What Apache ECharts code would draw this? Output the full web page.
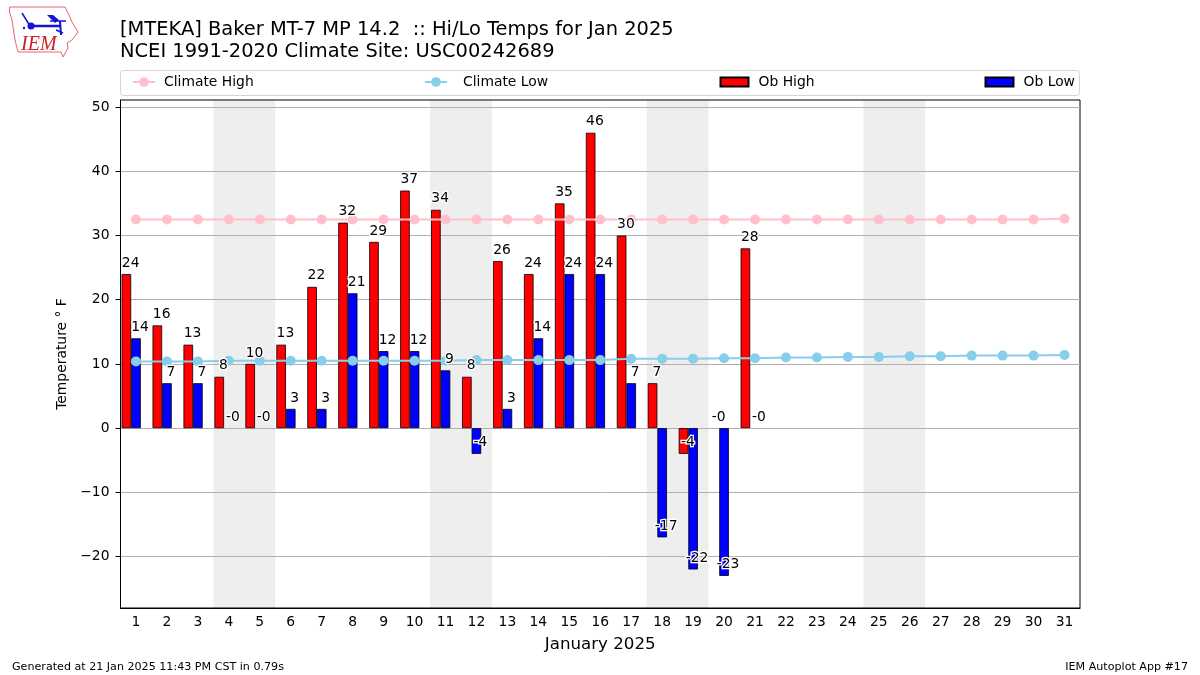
<!DOCTYPE html>
<html>
<head>
<meta charset="utf-8">
<script src="https://cdn.jsdelivr.net/npm/echarts@6/dist/echarts.min.js"></script>
<style>html,body{margin:0;padding:0;background:#fff}#c{width:1200px;height:675px}</style>
</head>
<body>
<div id="c"></div>
<script>
const days = ["1","2","3","4","5","6","7","8","9","10","11","12","13","14","15","16","17","18","19","20","21","22","23","24","25","26","27","28","29","30","31"];
const climateHigh = [32.5,32.5,32.5,32.5,32.5,32.5,32.5,32.5,32.5,32.5,32.5,32.5,32.5,32.5,32.5,32.5,32.5,32.5,32.5,32.5,32.5,32.5,32.5,32.5,32.5,32.5,32.5,32.5,32.5,32.5,32.6];
const climateLow = [10.4,10.4,10.4,10.5,10.5,10.5,10.5,10.5,10.5,10.5,10.5,10.6,10.6,10.6,10.6,10.6,10.8,10.8,10.8,10.9,10.9,11,11,11.1,11.1,11.2,11.2,11.3,11.3,11.3,11.4];
const obHigh = [24,16,13,8,10,13,22,32,29,37,34,8,26,24,35,46,30,7,-4,0,28];
const obLow = [14,7,7,0,0,3,3,21,12,12,9,-4,3,14,24,24,7,-17,-22,-23,0];
const yTicks = [-20,-10,0,10,20,30,40,50];
const weekendBands = [[3.5,5.5],[10.5,12.5],[17.5,19.5],[24.5,26.5]];

const FONT = 'DejaVu Sans';
const BLACK = '#000';
const TICK_SIZE = 13.89;

function barSeries(name, values, color){
  return {
    name, type: 'bar', xAxisIndex: 0, yAxisIndex: 0, z: 2,
    barWidth: '31%', barGap: '0%',
    data: values.map(v => ({value: v, itemStyle: v === 0 ? {borderWidth: 0} : undefined})),
    itemStyle: {color, borderColor: BLACK, borderWidth: 0.8, borderJoin: 'miter', borderRadius: 0}
  };
}
function labelSeries(name, values, dx){
  return {
    name, type: 'scatter', xAxisIndex: 0, yAxisIndex: 0, z: 4, silent: true,
    data: values, symbolSize: 0, itemStyle: {opacity: 1},
    label: {
      show: true, position: 'top', distance: 4, offset: [dx, 0], color: BLACK, opacity: 1,
      fontFamily: FONT, fontSize: TICK_SIZE,
      textBorderColor: '#fff', textBorderWidth: 2.5,
      formatter: p => p.value === 0 ? '-0' : String(p.value)
    }
  };
}
function lineSeries(name, values, color){
  return {
    name, type: 'line', xAxisIndex: 0, yAxisIndex: 0, z: 3,
    data: values, symbol: 'circle', symbolSize: 10, showSymbol: true, showAllSymbol: true,
    lineStyle: {color, width: 2}, itemStyle: {color}
  };
}
function legendAt(name, left, itemWidth, itemHeight, gap, icon){
  const o = {
    data: [name], left, top: 75, itemWidth, itemHeight, itemGap: 0, padding: 0,
    textStyle: {fontFamily: FONT, fontSize: TICK_SIZE, color: BLACK, padding: [0,0,0,gap]}
  };
  if (icon) o.icon = icon;
  return o;
}

const chart = echarts.init(document.getElementById('c'), null, {renderer: 'canvas'});
const logoRed = '#e06a70', logoBlue = '#1414d2';
chart.setOption({
  animation: false,
  backgroundColor: '#fff',
  title: [
    {text: '[MTEKA] Baker MT-7 MP 14.2  :: Hi/Lo Temps for Jan 2025\nNCEI 1991-2020 Climate Site: USC00242689',
     left: 120, top: 19, padding: 0,
     textStyle: {fontFamily: FONT, fontSize: 19.44, fontWeight: 'normal', color: BLACK, lineHeight: 22}},
    {text: 'Generated at 21 Jan 2025 11:43 PM CST in 0.79s', left: 12, top: 662, padding: 0,
     textStyle: {fontFamily: FONT, fontSize: 11.11, fontWeight: 'normal', color: BLACK}},
    {text: 'IEM Autoplot App #17', right: 12, top: 662, padding: 0,
     textStyle: {fontFamily: FONT, fontSize: 11.11, fontWeight: 'normal', color: BLACK}}
  ],
  legend: [
    legendAt('Climate High', 132, 22, 12, 4),
    legendAt('Climate Low', 424, 22, 12, 11),
    legendAt('Ob High', 719.5, 28, 9, 5, 'rect'),
    legendAt('Ob Low', 984.5, 28, 9, 5, 'rect')
  ],
  grid: {left: 120.5, top: 100, width: 959.5, height: 508, show: true, borderColor: BLACK, borderWidth: 1, containLabel: false},
  xAxis: [
    {type: 'category', data: days, position: 'bottom',
     name: 'January 2025', nameLocation: 'middle', nameGap: 28,
     nameTextStyle: {fontFamily: FONT, fontSize: 16.67, color: BLACK},
     axisLine: {onZero: false, lineStyle: {color: BLACK, width: 1}},
     axisTick: {alignWithLabel: true, length: 5, lineStyle: {color: BLACK}},
     axisLabel: {interval: 0, margin: 7, fontFamily: FONT, fontSize: TICK_SIZE, color: BLACK},
     splitLine: {show: false}},
    {type: 'value', min: 0.5, max: 31.5, show: false, splitLine: {show: false}}
  ],
  yAxis: {
    type: 'value', min: -28, max: 51.1,
    name: 'Temperature ° F', nameLocation: 'middle', nameGap: 49,
    nameTextStyle: {fontFamily: FONT, fontSize: TICK_SIZE, color: BLACK},
    axisLine: {show: true, onZero: false, lineStyle: {color: BLACK, width: 1}},
    axisTick: {show: true, length: 5, customValues: yTicks, lineStyle: {color: BLACK}},
    axisLabel: {customValues: yTicks, margin: 11, padding: [2,0,0,0], fontFamily: FONT, fontSize: TICK_SIZE, color: BLACK,
      formatter: v => String(v).replace('-', '\u2212')},
    splitLine: {show: true, lineStyle: {color: '#b0b0b0', width: 1}}
  },
  series: [
    {name: 'weekend', type: 'line', xAxisIndex: 1, yAxisIndex: 0, data: [], silent: true,
     markArea: {silent: true, z: -1, itemStyle: {color: '#eeeeee'},
       data: weekendBands.map(b => [{xAxis: b[0]}, {xAxis: b[1]}])}},
    barSeries('Ob High', obHigh, '#ff0000'),
    barSeries('Ob Low', obLow, '#0000ff'),
    {name: 'spacer', type: 'bar', xAxisIndex: 0, yAxisIndex: 0, barWidth: '31%', barGap: '0%', data: []},
    lineSeries('Climate High', climateHigh, '#ffc0cb'),
    lineSeries('Climate Low', climateLow, '#87ceeb'),
    labelSeries('High labels', obHigh, -5.3),
    labelSeries('Low labels', obLow, 4)
  ],
  graphic: [
    {type: 'rect', z: -10, shape: {x: 120.5, y: 70.5, width: 959, height: 25, r: 3},
     style: {fill: '#fff', stroke: '#d4d4d4', lineWidth: 1}},
    {type: 'polyline', z: 5, shape: {points: [[9.5,7],[65,7],[68,13],[72,22],[78,32],[72,40],[67,43],[68,48],[63,57],[61,52],[18,52],[15,40],[12,20],[9.5,12],[9.5,7]]},
     style: {stroke: logoRed, fill: 'none', lineWidth: 1}},
    {type: 'polyline', z: 5, shape: {points: [[31,26],[60,26]]}, style: {stroke: logoBlue, lineWidth: 2.5, fill:'none'}},
    {type: 'polyline', z: 5, shape: {points: [[22,13],[30,26]]}, style: {stroke: logoBlue, lineWidth: 1.5, fill:'none'}},
    {type: 'polyline', z: 5, shape: {points: [[50,21],[66,21]]}, style: {stroke: logoBlue, lineWidth: 1.5, fill:'none'}},
    {type: 'polyline', z: 5, shape: {points: [[60,21],[61,35]]}, style: {stroke: logoBlue, lineWidth: 2, fill:'none'}},
    {type: 'polyline', z: 5, shape: {points: [[56,30],[63,33]]}, style: {stroke: logoBlue, lineWidth: 1.5, fill:'none'}},
    {type: 'polygon', z: 5, shape: {points: [[47,15],[53,15],[59,20],[55,23]]}, style: {fill: logoBlue}},
    {type: 'circle', z: 5, shape: {cx: 31, cy: 26, r: 3.5}, style: {fill: logoBlue}},
    {type: 'circle', z: 5, shape: {cx: 24, cy: 28, r: 1.2}, style: {fill: logoBlue}},
    {type: 'text', z: 5, x: 21, y: 35, style: {text: 'IEM', fill: '#d0202a', fontFamily: 'Liberation Serif', fontStyle: 'italic', fontSize: 20}}
  ]
});
</script>
</body>
</html>
